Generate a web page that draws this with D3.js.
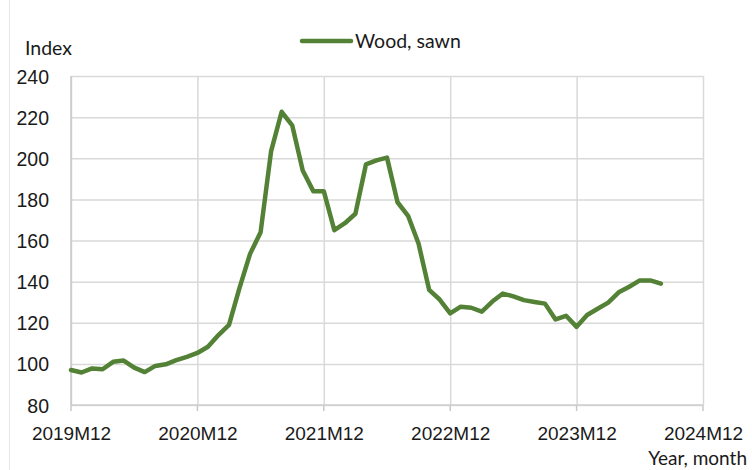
<!DOCTYPE html>
<html>
<head>
<meta charset="utf-8">
<script src="https://cdn.jsdelivr.net/npm/d3@7"></script>
<style>
  html, body { margin: 0; padding: 0; background: #fff; }
  svg { display: block; font-family: Lato, "Open Sans", sans-serif; }
</style>
</head>
<body>
<svg id="chart" width="752" height="470"></svg>
<script>
// Monthly price index, wood (sawn)
const months = [
  "2019M12",
  "2020M01","2020M02","2020M03","2020M04","2020M05","2020M06","2020M07","2020M08","2020M09","2020M10","2020M11","2020M12",
  "2021M01","2021M02","2021M03","2021M04","2021M05","2021M06","2021M07","2021M08","2021M09","2021M10","2021M11","2021M12",
  "2022M01","2022M02","2022M03","2022M04","2022M05","2022M06","2022M07","2022M08","2022M09","2022M10","2022M11","2022M12",
  "2023M01","2023M02","2023M03","2023M04","2023M05","2023M06","2023M07","2023M08","2023M09","2023M10","2023M11","2023M12",
  "2024M01","2024M02","2024M03","2024M04","2024M05","2024M06","2024M07","2024M08"
];
const woodSawn = [
  97, 95.8, 97.8, 97.4, 101, 101.6, 98.2, 96, 99, 99.8, 101.8, 103.4, 105.3,
  108.3, 114, 119, 137, 153.5, 164, 203.5, 222.6, 216, 194, 184, 184,
  165, 168.4, 173, 197, 199, 200.3, 178.6, 172, 158.4, 136, 131.3, 124.6,
  127.8, 127.3, 125.4, 130.3, 134.2, 132.8, 131, 130.1, 129.3, 121.6, 123.4, 118,
  123.8, 126.8, 129.8, 134.8, 137.5, 140.6, 140.6, 139
];
const xTickLabels = ["2019M12", "2020M12", "2021M12", "2022M12", "2023M12", "2024M12"];
const yTicks = [80, 100, 120, 140, 160, 180, 200, 220, 240];
const seriesName = "Wood, sawn";

const svg = d3.select("#chart");
const plot = { left: 71, right: 703, top: 76, bottom: 405 };
const lineColor = "#538135";
const gridColor = "#d9d9d9";
const textColor = "#1a1a1a";

// x: month index, from the first category to the last labelled December
const x = d3.scaleLinear()
  .domain([0, months.indexOf("2019M12") + 12 * (xTickLabels.length - 1)])
  .range([plot.left, plot.right]);
const y = d3.scaleLinear()
  .domain([d3.min(yTicks), d3.max(yTicks)])
  .range([plot.bottom, plot.top]);

const xTickIdx = xTickLabels.map((_, i) => i * 12);

// outer frame edge on the left
svg.append("line")
  .attr("x1", 9.5).attr("x2", 9.5).attr("y1", 0).attr("y2", 470)
  .attr("stroke", "#e6e6e6").attr("stroke-width", 1);

// horizontal gridlines + y labels
const yAxis = d3.axisLeft(y).tickValues(yTicks)
  .tickSize(-(plot.right - plot.left)).tickPadding(22);
const gy = svg.append("g").attr("transform", `translate(${plot.left},0)`).call(yAxis);
gy.select(".domain").remove();
gy.selectAll(".tick line").attr("stroke", gridColor).attr("stroke-width", 1.5);
gy.selectAll(".tick text")
  .attr("fill", textColor).style("font-size", "19.5px").attr("dy", "0.36em");

// vertical gridlines + x labels
const xAxis = d3.axisBottom(x).tickValues(xTickIdx)
  .tickFormat((d, i) => xTickLabels[i])
  .tickSize(-(plot.bottom - plot.top)).tickPadding(19);
const gx = svg.append("g").attr("transform", `translate(0,${plot.bottom})`).call(xAxis);
gx.select(".domain").remove();
gx.selectAll(".tick line").attr("stroke", gridColor).attr("stroke-width", 1.5);
gx.selectAll(".tick text")
  .attr("fill", textColor).style("font-size", "19px").attr("dy", "0.85em");

// small outward tick marks under the x axis
svg.append("g").selectAll("line").data(xTickIdx).join("line")
  .attr("x1", d => x(d)).attr("x2", d => x(d))
  .attr("y1", plot.bottom).attr("y2", plot.bottom + 6)
  .attr("stroke", "#c8c8c8").attr("stroke-width", 1.5);

// axis lines
svg.append("line")
  .attr("x1", plot.left).attr("x2", plot.right)
  .attr("y1", plot.bottom).attr("y2", plot.bottom)
  .attr("stroke", "#cfcfcf").attr("stroke-width", 1.5);
svg.append("line")
  .attr("x1", plot.left).attr("x2", plot.left)
  .attr("y1", plot.top).attr("y2", plot.bottom)
  .attr("stroke", "#c8c8c8").attr("stroke-width", 1.5);

// series line
const line = d3.line()
  .x((d, i) => x(i))
  .y(d => y(d));
svg.append("path")
  .datum(woodSawn)
  .attr("d", line)
  .attr("fill", "none")
  .attr("stroke", lineColor)
  .attr("stroke-width", 4.5)
  .attr("stroke-linejoin", "round")
  .attr("stroke-linecap", "round");

// axis titles
svg.append("text").attr("x", 25).attr("y", 55)
  .attr("fill", textColor).style("font-size", "19.5px").text("Index");
svg.append("text").attr("x", 747).attr("y", 465)
  .attr("text-anchor", "end")
  .attr("fill", textColor).style("font-size", "19px").text("Year, month");

// legend
const lg = svg.append("g").attr("transform", "translate(302,41)");
lg.append("line").attr("x1", 0).attr("x2", 49).attr("y1", 0).attr("y2", 0)
  .attr("stroke", lineColor).attr("stroke-width", 4.5).attr("stroke-linecap", "round");
lg.append("text").attr("x", 53).attr("y", 0).attr("dy", "0.36em")
  .attr("fill", textColor).style("font-size", "19.5px").text(seriesName);
</script>
</body>
</html>
